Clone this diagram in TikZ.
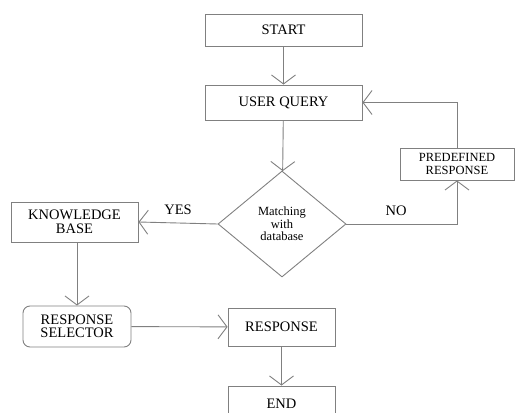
\documentclass[tikz,border=0pt]{standalone}
\usepackage{fontspec}
\setmainfont{Liberation Serif}
\usepackage{tikz}
\usetikzlibrary{positioning,shapes.geometric,arrows.meta}
\newcommand{\flowgray}{black!50}
\newcommand{\bigtxt}{\fontsize{14.5}{13.5}\selectfont}
\newcommand{\smalltxt}{\fontsize{12.5}{12.5}\selectfont}

\begin{document}
\begin{tikzpicture}[x=1pt, y=1pt,
	box/.style={draw=\flowgray, line width=0.9pt, rectangle, inner sep=0pt, align=center, text=black, font=\bigtxt},
	roundbox/.style={box, rounded corners=7pt},
	decision/.style={draw=\flowgray, line width=0.9pt, diamond, inner sep=0pt, align=center, text=black, font=\smalltxt, minimum width=128pt, minimum height=106pt},
	flow/.style={draw=\flowgray, line width=0.9pt, -{Straight Barb[length=9pt, width=24pt, line width=0.9pt]}},
	lbl/.style={text=black, font=\bigtxt, inner sep=0pt}]
	% frame of the picture
	\useasboundingbox (0,0) rectangle (516,412);
	\clip (0,0) rectangle (516,412);
	%
	% main column
	\node[box, minimum width=157pt, minimum height=32pt] (start) at (283.5,382) {START};
	\node[box, minimum width=157pt, minimum height=35pt] (query) at (283.5,309.5) {USER QUERY};
	\node[decision] (match) at (282,188) {Matching\\with\\database};
	%
	% right branch
	\node[box, font=\smalltxt, minimum width=114pt, minimum height=32pt] (predef) at (457,248) {PREDEFINED\\RESPONSE};
	%
	% left branch
	\node[box, minimum width=127pt, minimum height=40pt] (kbase) at (74.5,190) {KNOWLEDGE\\BASE};
	\node[roundbox, minimum width=108pt, minimum height=41pt] (select) at (77,85.5) {RESPONSE\\SELECTOR};
	\node[box, minimum width=107pt, minimum height=38pt] (resp) at (281.5,85) {RESPONSE};
	\node[box, minimum width=107pt, minimum height=36pt] (stop) at (281.5,8) {END};
	%
	% connectors
	\draw[flow] (start) -- (query);
	\draw[flow] (query) -- (match);
	\draw[flow] (match.west) -- (kbase.east) node[lbl, midway, above=8pt] {YES};
	\draw[flow] (match.east) -| (predef.south) node[lbl, pos=0.225, above=8pt] {NO};
	\draw[flow] (predef.north) |- (query.east);
	\draw[flow] (kbase.south -| select.north) -- (select.north);
	\draw[flow] (select) -- (resp);
	\draw[flow] (resp) -- (stop);
\end{tikzpicture}
\end{document}
